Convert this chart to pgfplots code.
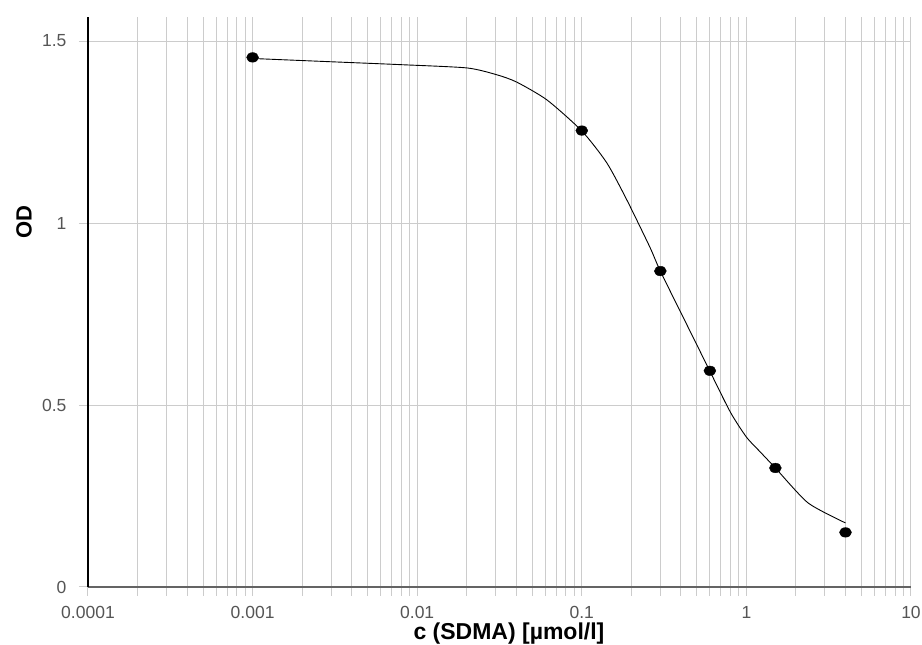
\documentclass[border=0pt]{standalone}
\usepackage{pgfplots}
\pgfplotsset{compat=1.18}
\usepackage{fontspec}
\setmainfont{Liberation Sans}
\definecolor{gridgray}{RGB}{204,204,204}
\definecolor{labgray}{RGB}{85,85,85}
\definecolor{xaxisgray}{RGB}{100,100,100}
\begin{document}
\begin{tikzpicture}
\path[use as bounding box] (-88pt,-58pt) rectangle (834pt,587pt);
\begin{axis}[
  at={(0pt,0pt)}, anchor=south west, scale only axis,
  width=823pt, height=570pt,
  xmode=log, log basis x=10,
  xmin=0.0001, xmax=10, ymin=0, ymax=1.566,
  axis x line=bottom, axis y line=left,
  x axis line style={-, draw=xaxisgray, line width=1.8pt},
  y axis line style={-, draw=black, line width=1.2pt},
  xtick={0.0001,0.001,0.01,0.1,1,10},
  xticklabels={0.0001,0.001,0.01,0.1,1,10},
  minor xtick={0.0002,0.0003,0.0004,0.0005,0.0006,0.0007,0.0008,0.0009,
               0.002,0.003,0.004,0.005,0.006,0.007,0.008,0.009,
               0.02,0.03,0.04,0.05,0.06,0.07,0.08,0.09,
               0.2,0.3,0.4,0.5,0.6,0.7,0.8,0.9,
               2,3,4,5,6,7,8,9},
  ytick={0,0.5,1,1.5},
  yticklabels={0,0.5,1,1.5},
  grid=both,
  major grid style={draw=gridgray, line width=1pt},
  minor grid style={draw=gridgray, line width=1pt},
  tick style={draw=gridgray, line width=1pt},
  tick align=outside,
  major tick length=9pt, minor tick length=9pt,
  ticklabel style={font=\fontsize{17.5}{17.5}\selectfont, text=labgray},
  xticklabel style={yshift=-7pt},
  yticklabel style={xshift=-9pt},
  xlabel={c (SDMA) [µmol/l]},
  ylabel={OD},
  xlabel style={font=\fontsize{23}{23}\selectfont\bfseries, at={(axis description cs:0.5115,0)}, anchor=base, yshift=-52.5pt},
  ylabel style={font=\fontsize{22}{22}\selectfont\bfseries, at={(axis description cs:-0.0778,0.640)}, anchor=center},
  clip=false,
]
\addplot[black, line width=0.9pt, smooth, tension=0.4] coordinates {
  (0.001,1.452) (0.003,1.443) (0.008,1.435) (0.0201,1.426) (0.0306,1.407)
  (0.0403,1.387) (0.0615,1.338) (0.1,1.253) (0.142,1.165) (0.188,1.063)
  (0.259,0.934) (0.3,0.868) (0.45,0.707) (0.6,0.593) (0.8,0.48)
  (1.0,0.412) (1.22,0.37) (1.5,0.327) (2.37,0.231) (4,0.176)
};
\addplot[only marks, mark=*, mark size=4.8pt, mark options={fill=black, draw=black, xscale=1.25}] coordinates {
  (0.001,1.455) (0.1,1.254) (0.3,0.868) (0.6,0.594) (1.5,0.327) (4,0.150)
};
\end{axis}
\end{tikzpicture}
\end{document}
